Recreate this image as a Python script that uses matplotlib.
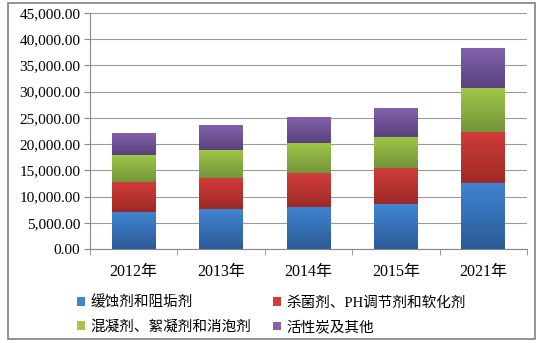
import numpy as np
import matplotlib
matplotlib.use("Agg")
from matplotlib import pyplot as plt
from matplotlib.patches import Patch, Rectangle
from matplotlib.colors import LinearSegmentedColormap
from matplotlib.ticker import FuncFormatter, FixedLocator

plt.rcParams['font.family'] = ['Liberation Serif', 'Noto Sans CJK SC']

years = ['2012年', '2013年', '2014年', '2015年', '2021年']
series_names = ['缓蚀剂和阻垢剂', '杀菌剂、PH调节剂和软化剂', '混凝剂、絮凝剂和消泡剂', '活性炭及其他']
corrosion = [7100, 7590, 8050, 8540, 12550]
biocide = [5690, 5960, 6370, 6910, 9700]
coagulant = [5120, 5370, 5770, 5990, 8360]
others = [4180, 4680, 4930, 5390, 7610]

# (light top, dark bottom) for each series
colors = [('#4184d2', '#2b5b98'),
          ('#d23c39', '#9c2a27'),
          ('#9fc748', '#74943a'),
          ('#8262ab', '#5a427e')]

fig = plt.figure(figsize=(5.44, 3.43), dpi=100)
ax = fig.add_axes([90 / 544, 1 - 249 / 343, 437 / 544, 236 / 343])

x = np.arange(len(years))
bottom = np.zeros(len(years))
grad = np.linspace(1, 0, 64).reshape(-1, 1)
for vals, (c_top, c_bot) in zip([corrosion, biocide, coagulant, others], colors):
    bars = ax.bar(x, vals, bottom=bottom, width=0.5, color=c_top, zorder=2)
    cmap = LinearSegmentedColormap.from_list('g', [c_bot, c_top])
    for rect in bars:
        x0, y0 = rect.get_x(), rect.get_y()
        ax.imshow(grad, cmap=cmap, aspect='auto', zorder=3,
                  extent=(x0, x0 + rect.get_width(), y0, y0 + rect.get_height()),
                  vmin=0, vmax=1)
    bottom += np.array(vals)

ax.set_xlim(-0.5, 4.5)
ax.set_ylim(0, 45000)
ax.set_yticks(range(0, 45001, 5000))
ax.yaxis.set_major_formatter(FuncFormatter(lambda v, p: f'{v:,.2f}'))
ax.set_xticks(x)
ax.set_xticklabels(years, fontsize=11.5)
ax.xaxis.set_minor_locator(FixedLocator(np.arange(-0.5, 5, 1)))
ax.tick_params(axis='x', which='major', length=0, pad=11)
ax.tick_params(axis='x', which='minor', length=4, color='#888888')
ax.tick_params(axis='y', length=4, color='#888888', labelsize=11, pad=3)
ax.grid(axis='y', color='#9a9a9a', linewidth=0.8, zorder=0)
ax.set_axisbelow(True)
for s in ['top', 'right']:
    ax.spines[s].set_visible(False)
for s in ['left', 'bottom']:
    ax.spines[s].set_color('#888888')

# legend fills column by column, so order items to read row by row
handles = [Patch(facecolor=c[0], edgecolor='none') for c in colors]
order = [0, 2, 1, 3]
fig.legend([handles[i] for i in order], [series_names[i] for i in order],
           ncol=2, loc='upper left',
           bbox_to_anchor=(64 / 544, 1 - 282 / 343), frameon=False,
           handlelength=0.55, handleheight=0.55, handletextpad=0.35,
           columnspacing=1.5, labelspacing=0.75, fontsize=10.5)

fig.patches.append(Rectangle((8 / 544, 1 - 339 / 343), 527 / 544, 336 / 343,
                             transform=fig.transFigure, fill=False,
                             edgecolor='#808080', linewidth=1.2))

plt.savefig('out.png', dpi=100)
